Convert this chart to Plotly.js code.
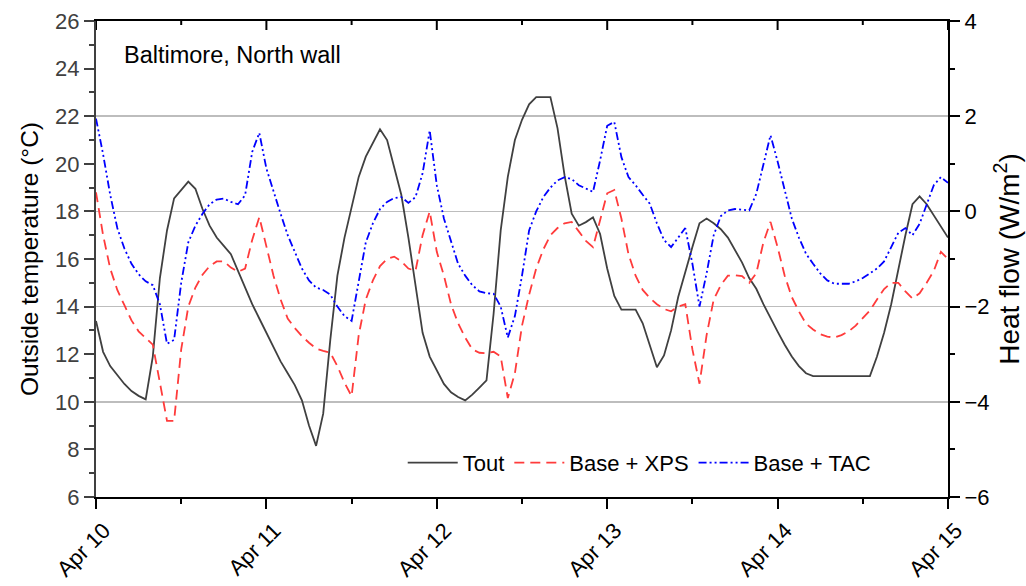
<!DOCTYPE html>
<html>
<head>
<meta charset="utf-8">
<script src="https://cdn.plot.ly/plotly-3.0.1.min.js"></script>
<style>
  html, body { margin: 0; padding: 0; background: #fff; }
  #chart { width: 1026px; height: 586px; }
</style>
</head>
<body>
<div id="chart"></div>
<script>
// Hourly series, Apr 10 00:00 to Apr 15 00:00 (121 samples)
const startDay = Date.UTC(2015, 3, 10);
const hourMs = 3600 * 1000;

// Outside air temperature, °C
const tout = [
  13.4, 12.1, 11.5, 11.1, 10.75, 10.45, 10.25, 10.1, 11.9, 15.2,
  17.2, 18.55, 18.9, 19.25, 18.95, 18.1, 17.4, 16.9, 16.55, 16.2,
  15.5, 14.8, 14.1, 13.5, 12.9, 12.25, 11.7, 11.2, 10.7, 10.06,
  9.0, 8.15, 9.5, 12.6, 15.3, 16.9, 18.2, 19.45, 20.3, 20.9,
  21.45, 21.0, 19.9, 18.7, 16.9, 14.9, 12.9, 11.9, 11.3, 10.75,
  10.4, 10.2, 10.06, 10.3, 10.6, 10.9, 13.7, 17.2, 19.45, 21.0,
  21.85, 22.5, 22.8, 22.8, 22.8, 21.5, 19.5, 17.9, 17.4, 17.55,
  17.75, 17.05, 15.6, 14.45, 13.87, 13.87, 13.87, 13.3, 12.4, 11.45,
  11.95, 13.0, 14.4, 15.5, 16.5, 17.5, 17.7, 17.5, 17.25, 16.9,
  16.4, 15.85, 15.2, 14.75, 14.1, 13.5, 12.95, 12.4, 11.9, 11.5,
  11.2, 11.08, 11.08, 11.08, 11.08, 11.08, 11.08, 11.08, 11.08, 11.08,
  11.9, 12.9, 14.1, 15.6, 17.0, 18.3, 18.63, 18.3, 17.85, 17.4,
  16.9
];

// Heat flow through the wall, W/m2 — base wall + XPS
const baseXps = [
  0.4, -0.5, -1.2, -1.65, -1.97, -2.29, -2.52, -2.66, -2.8, -3.6,
  -4.4, -4.4, -2.9, -2.0, -1.6, -1.33, -1.15, -1.05, -1.05, -1.18,
  -1.27, -1.2, -0.6, -0.12, -0.75, -1.35, -1.85, -2.25, -2.45, -2.62,
  -2.76, -2.88, -2.93, -2.97, -3.25, -3.6, -3.88, -2.6, -1.85, -1.45,
  -1.15, -1.0, -0.95, -1.05, -1.2, -1.25, -0.5, 0.0, -0.85, -1.35,
  -1.95, -2.35, -2.65, -2.9, -2.97, -2.98, -2.95, -3.05, -3.92, -3.4,
  -2.4, -1.75, -1.2, -0.8, -0.5, -0.35, -0.25, -0.22, -0.42, -0.62,
  -0.75, -0.2, 0.38, 0.45, -0.15, -0.9, -1.35, -1.65, -1.82, -1.95,
  -2.05, -2.1, -2.0, -1.95, -2.9, -3.62, -2.6, -1.85, -1.55, -1.35,
  -1.34, -1.36, -1.5, -1.3, -0.65, -0.22, -0.75, -1.35, -1.8, -2.1,
  -2.36, -2.48, -2.58, -2.63, -2.65, -2.6, -2.52, -2.4, -2.25, -2.08,
  -1.85, -1.63, -1.5, -1.5, -1.68, -1.83, -1.72, -1.5, -1.25, -0.85,
  -1.0
];

// Heat flow through the wall, W/m2 — base wall + TAC
const baseTac = [
  1.95, 1.2, 0.35, -0.35, -0.78, -1.1, -1.32, -1.47, -1.55, -1.95,
  -2.78, -2.7, -1.5, -0.65, -0.3, -0.05, 0.15, 0.25, 0.27, 0.2,
  0.15, 0.34, 1.25, 1.65, 0.9, 0.4, -0.05, -0.5, -0.85, -1.2,
  -1.45, -1.6, -1.65, -1.75, -2.0, -2.2, -2.3, -1.45, -0.65, -0.25,
  0.05, 0.2, 0.28, 0.3, 0.18, 0.3, 0.8, 1.7, 0.55, -0.15,
  -0.6, -1.1, -1.35, -1.55, -1.68, -1.72, -1.73, -2.0, -2.65, -2.2,
  -1.35, -0.4, 0.0, 0.3, 0.5, 0.65, 0.72, 0.68, 0.55, 0.48,
  0.41, 1.07, 1.8, 1.88, 1.14, 0.72, 0.55, 0.35, 0.16, -0.25,
  -0.6, -0.75, -0.55, -0.35, -1.1, -2.0, -1.3, -0.5, -0.1, 0.02,
  0.05, 0.03, 0.02, 0.37, 1.0, 1.6, 1.05, 0.45, -0.15, -0.55,
  -0.89, -1.1, -1.3, -1.45, -1.52, -1.52, -1.52, -1.47, -1.4, -1.3,
  -1.2, -1.05, -0.75, -0.45, -0.35, -0.5, -0.26, 0.15, 0.55, 0.72,
  0.6
];

const seriesNames = ['Tout', 'Base + XPS', 'Base + TAC'];
const chartLabel = 'Baltimore, North wall';

const times = tout.map((_, i) => startDay + i * hourMs);
const dayMs = 24 * hourMs;
const xRange = [startDay, startDay + 5 * dayMs];

const FONT = 'Liberation Sans, Arial, sans-serif';

// Inward-pointing ticks along the top frame (full days long, half days short)
const topTicks = Array.from({ length: 11 }, (_, i) => ({
  type: 'line', xref: 'x', yref: 'paper', layer: 'above',
  x0: startDay + i * dayMs / 2, x1: startDay + i * dayMs / 2,
  ysizemode: 'pixel', yanchor: 1, y0: 0, y1: i % 2 === 0 ? -9 : -4,
  line: { color: '#000', width: 2 }
}));

const traces = [
  {
    x: times, y: tout, name: seriesNames[0], type: 'scatter', mode: 'lines',
    xaxis: 'x', yaxis: 'y',
    line: { color: '#404040', width: 1.8 }
  },
  {
    x: times, y: baseXps, name: seriesNames[1], type: 'scatter', mode: 'lines',
    xaxis: 'x', yaxis: 'y2',
    line: { color: '#ff3b3b', width: 1.8, dash: '10px,6px' }
  },
  {
    x: times, y: baseTac, name: seriesNames[2], type: 'scatter', mode: 'lines',
    xaxis: 'x', yaxis: 'y2',
    line: { color: '#0000ff', width: 1.8, dash: '8px,3px,2px,3px,2px,3px' }
  }
];

const tickCommon = { tickwidth: 2, tickcolor: '#000' };

const layout = {
  width: 1026, height: 586,
  margin: { l: 96, r: 78, t: 21, b: 89 },
  paper_bgcolor: '#ffffff', plot_bgcolor: '#ffffff',
  font: { family: FONT, size: 22, color: '#000' },
  showlegend: true,
  legend: {
    orientation: 'h', x: 0.36, y: 0.072, xanchor: 'left', yanchor: 'middle',
    font: { family: FONT, size: 22, color: '#000' },
    itemwidth: 50,
    bgcolor: 'rgba(0,0,0,0)', traceorder: 'normal'
  },
  xaxis: {
    type: 'date', range: xRange, side: 'bottom', anchor: 'y',
    tickmode: 'linear', tickformat: '%b %-d', dtick: dayMs, tick0: startDay,
    tickangle: -45, tickfont: { family: FONT, size: 22, color: '#000' },
    ticklabelshift: 8,
    ticks: 'outside', ticklen: 10, ...tickCommon,
    minor: { dtick: dayMs / 2, tick0: startDay, ticks: 'outside', ticklen: 5, ...tickCommon, showgrid: false },
    showline: true, mirror: true, linecolor: '#000', linewidth: 2,
    showgrid: false, zeroline: false, automargin: false
  },
  yaxis: {
    range: [6, 26], dtick: 2, tick0: 6,
    tickfont: { family: FONT, size: 22, color: '#404040' },
    ticks: 'outside', ticklen: 10, tickwidth: 2, tickcolor: '#404040',
    minor: { dtick: 1, tick0: 6, ticks: 'outside', ticklen: 5, tickwidth: 2, tickcolor: '#404040', showgrid: false },
    showline: true, linecolor: '#404040', linewidth: 2,
    showgrid: false, zeroline: false, automargin: false,
    title: { text: 'Outside temperature (°C)', font: { family: FONT, size: 24.5, color: '#000' }, standoff: 10 }
  },
  yaxis2: {
    range: [-6, 4], dtick: 2, tick0: -6, overlaying: 'y', side: 'right', anchor: 'x',
    tickfont: { family: FONT, size: 22, color: '#000' },
    ticks: 'outside', ticklen: 10, ...tickCommon,
    minor: { dtick: 1, tick0: -6, ticks: 'outside', ticklen: 5, ...tickCommon, showgrid: false },
    showline: true, linecolor: '#000', linewidth: 2,
    showgrid: true, gridcolor: '#bdbdbd', gridwidth: 1.5,
    zeroline: false, automargin: false,
    title: { text: 'Heat flow (W/m<sup>2</sup>)', font: { family: FONT, size: 28, color: '#000' }, standoff: 4 }
  },
  shapes: topTicks,
  annotations: [
    {
      xref: 'paper', yref: 'paper', x: 0.031, y: 0.928,
      xanchor: 'left', yanchor: 'middle', showarrow: false,
      text: chartLabel, font: { family: FONT, size: 23.5, color: '#000' }
    }
  ]
};

Plotly.newPlot('chart', traces, layout, { displayModeBar: false, staticPlot: true });
</script>
</body>
</html>
